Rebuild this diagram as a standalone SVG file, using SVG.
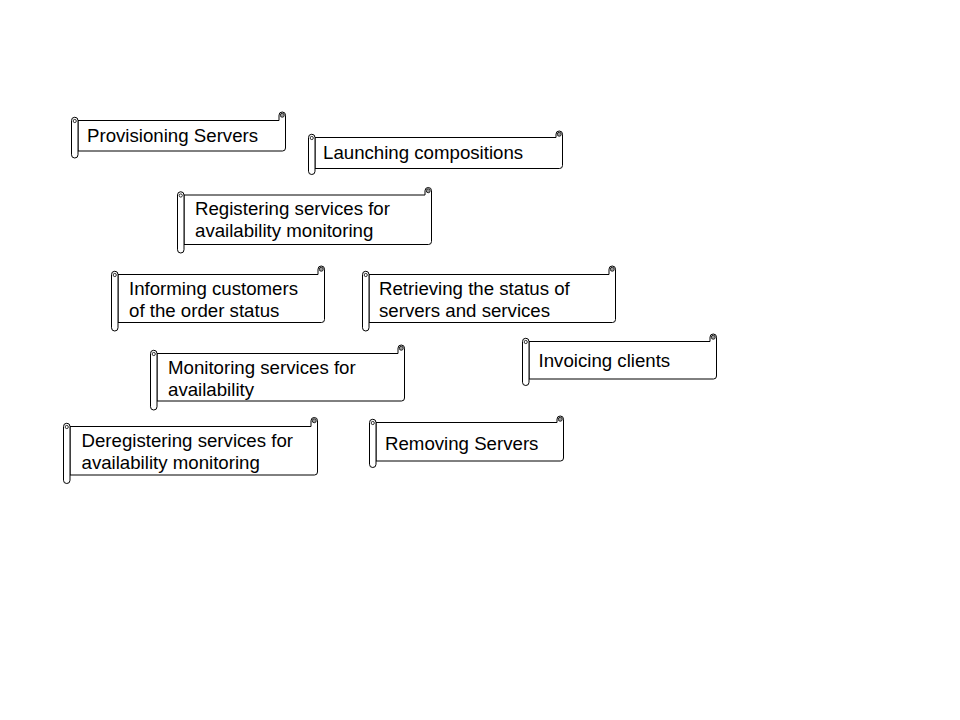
<svg xmlns="http://www.w3.org/2000/svg" width="960" height="720" viewBox="0 0 960 720">
<style>
.body{fill:#fff;stroke:#000;stroke-width:1}
.roll{fill:#fff;stroke:#000;stroke-width:1}
.cl{fill:#fff;stroke:#000;stroke-width:0.8}
.cr{fill:#999;stroke:#000;stroke-width:0.8}
text{font-family:"Liberation Sans",Arial,sans-serif;font-size:18.67px;fill:#000}
</style>
<rect width="960" height="720" fill="#fff"/>
<g id="connectors"/>
<g id="n1">
<path class="body" d="M78,120.5 H279 V115.25 A3.25 3.25 0 0 1 285.5,115.25 V148 Q285.5,151 282.5,151 H78 Z"/>
<path class="roll" d="M71.5,120.5 A3.25 3.25 0 0 1 78,120.5 V154.75 A3.25 3.25 0 0 1 71.5,154.75 Z"/>
<circle class="cl" cx="74.75" cy="121" r="1.6"/><circle class="cr" cx="282.25" cy="115.25" r="2"/>
<text x="87" y="142">Provisioning Servers</text>
</g>
<g id="n2">
<path class="body" d="M315,137.5 H556 V134.25 A3.25 3.25 0 0 1 562.5,134.25 V165.5 Q562.5,168.5 559.5,168.5 H315 Z"/>
<path class="roll" d="M308.5,137.5 A3.25 3.25 0 0 1 315,137.5 V171.25 A3.25 3.25 0 0 1 308.5,171.25 Z"/>
<circle class="cl" cx="311.75" cy="138" r="1.6"/><circle class="cr" cx="559.25" cy="134.25" r="2"/>
<text x="323" y="159">Launching compositions</text>
</g>
<g id="n3">
<path class="body" d="M184,195 H425 V190.75 A3.25 3.25 0 0 1 431.5,190.75 V241.5 Q431.5,244.5 428.5,244.5 H184 Z"/>
<path class="roll" d="M177.5,195 A3.25 3.25 0 0 1 184,195 V249.75 A3.25 3.25 0 0 1 177.5,249.75 Z"/>
<circle class="cl" cx="180.75" cy="195.5" r="1.6"/><circle class="cr" cx="428.25" cy="190.75" r="2"/>
<text x="195" y="215">Registering services for</text>
<text x="195" y="237">availability monitoring</text>
</g>
<g id="n4">
<path class="body" d="M118,274.5 H318 V269.25 A3.25 3.25 0 0 1 324.5,269.25 V319.5 Q324.5,322.5 321.5,322.5 H118 Z"/>
<path class="roll" d="M111.5,274.5 A3.25 3.25 0 0 1 118,274.5 V327.75 A3.25 3.25 0 0 1 111.5,327.75 Z"/>
<circle class="cl" cx="114.75" cy="275" r="1.6"/><circle class="cr" cx="321.25" cy="269.25" r="2"/>
<text x="129" y="295">Informing customers</text>
<text x="129" y="317">of the order status</text>
</g>
<g id="n5">
<path class="body" d="M369,274.5 H609 V269.25 A3.25 3.25 0 0 1 615.5,269.25 V319.5 Q615.5,322.5 612.5,322.5 H369 Z"/>
<path class="roll" d="M362.5,274.5 A3.25 3.25 0 0 1 369,274.5 V327.75 A3.25 3.25 0 0 1 362.5,327.75 Z"/>
<circle class="cl" cx="365.75" cy="275" r="1.6"/><circle class="cr" cx="612.25" cy="269.25" r="2"/>
<text x="379" y="295">Retrieving the status of</text>
<text x="379" y="317">servers and services</text>
</g>
<g id="n6">
<path class="body" d="M157,353.5 H398 V348.25 A3.25 3.25 0 0 1 404.5,348.25 V398 Q404.5,401 401.5,401 H157 Z"/>
<path class="roll" d="M150.5,353.5 A3.25 3.25 0 0 1 157,353.5 V406.75 A3.25 3.25 0 0 1 150.5,406.75 Z"/>
<circle class="cl" cx="153.75" cy="354" r="1.6"/><circle class="cr" cx="401.25" cy="348.25" r="2"/>
<text x="168" y="374">Monitoring services for</text>
<text x="168" y="396">availability</text>
</g>
<g id="n7">
<path class="body" d="M529,341.5 H710 V337.25 A3.25 3.25 0 0 1 716.5,337.25 V376 Q716.5,379 713.5,379 H529 Z"/>
<path class="roll" d="M522.5,341.5 A3.25 3.25 0 0 1 529,341.5 V382.25 A3.25 3.25 0 0 1 522.5,382.25 Z"/>
<circle class="cl" cx="525.75" cy="342" r="1.6"/><circle class="cr" cx="713.25" cy="337.25" r="2"/>
<text x="538.5" y="367">Invoicing clients</text>
</g>
<g id="n8">
<path class="body" d="M70,426.5 H311 V420.75 A3.25 3.25 0 0 1 317.5,420.75 V472 Q317.5,475 314.5,475 H70 Z"/>
<path class="roll" d="M63.5,426.5 A3.25 3.25 0 0 1 70,426.5 V480.25 A3.25 3.25 0 0 1 63.5,480.25 Z"/>
<circle class="cl" cx="66.75" cy="427" r="1.6"/><circle class="cr" cx="314.25" cy="420.75" r="2"/>
<text x="81.5" y="447">Deregistering services for</text>
<text x="81.5" y="469">availability monitoring</text>
</g>
<g id="n9">
<path class="body" d="M376,422.5 H557 V419.25 A3.25 3.25 0 0 1 563.5,419.25 V458 Q563.5,461 560.5,461 H376 Z"/>
<path class="roll" d="M369.5,422.5 A3.25 3.25 0 0 1 376,422.5 V464.25 A3.25 3.25 0 0 1 369.5,464.25 Z"/>
<circle class="cl" cx="372.75" cy="423" r="1.6"/><circle class="cr" cx="560.25" cy="419.25" r="2"/>
<text x="385" y="449.5">Removing Servers</text>
</g>
</svg>
